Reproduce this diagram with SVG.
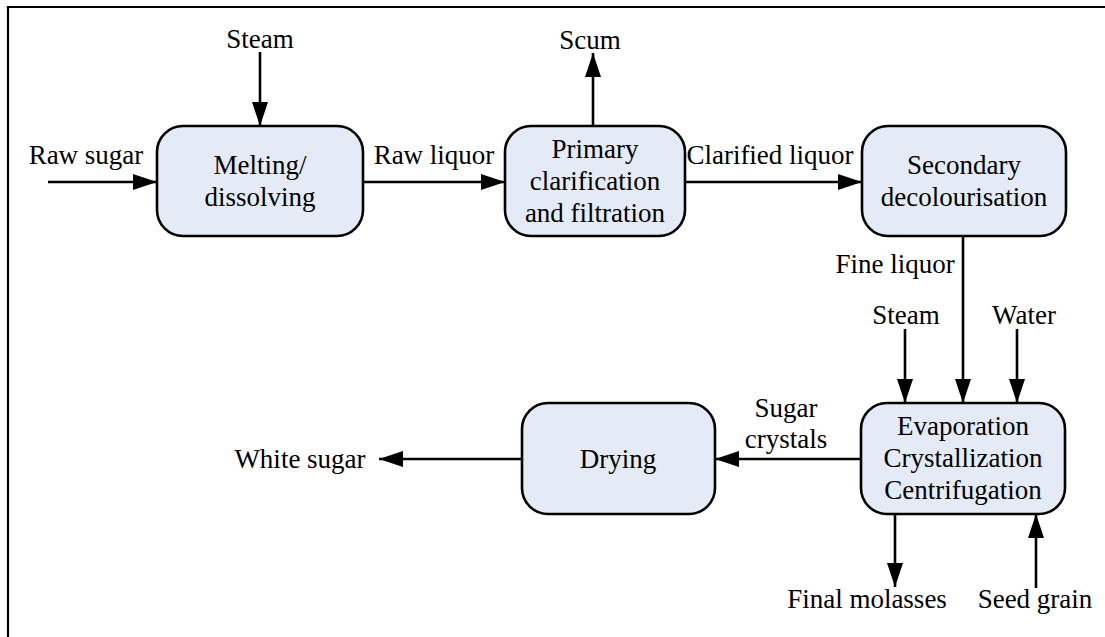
<svg xmlns="http://www.w3.org/2000/svg" width="1105" height="637" viewBox="0 0 1105 637" font-family="'Liberation Serif', 'Times New Roman', Times, serif">
  <style>
    .box { fill: #e5ebf6; stroke: #000; stroke-width: 2.6; }
    .lbl { font-family: 'Liberation Serif', 'Times New Roman', Times, serif; font-size: 27px; fill: #000; text-anchor: middle; }
    .flow { fill: none; stroke: #000; stroke-width: 2.6; }
    .frame { fill: none; stroke: #000; stroke-width: 2.2; }
  </style>
  <defs>
    <marker id="arrow" markerUnits="userSpaceOnUse" markerWidth="25" markerHeight="17" refX="24" refY="8" orient="auto">
      <path d="M0,0 L24,8 L0,16 z" fill="#000"/>
    </marker>
  </defs>

  <rect width="1105" height="637" fill="#fff"/>
  <path class="frame" d="M8,640 V7 H1106"/>

  <!-- process steps -->
  <g id="melting">
    <rect class="box" x="157" y="126" width="206" height="110" rx="26"/>
    <text class="lbl" x="260" y="174">Melting/</text>
    <text class="lbl" x="260" y="206">dissolving</text>
  </g>
  <g id="primary">
    <rect class="box" x="505" y="126" width="180" height="110" rx="26"/>
    <text class="lbl" x="595" y="158">Primary</text>
    <text class="lbl" x="595" y="190">clarification</text>
    <text class="lbl" x="595" y="222">and filtration</text>
  </g>
  <g id="secondary">
    <rect class="box" x="862" y="126" width="204" height="110" rx="26"/>
    <text class="lbl" x="964" y="174">Secondary</text>
    <text class="lbl" x="964" y="206">decolourisation</text>
  </g>
  <g id="evaporation">
    <rect class="box" x="861" y="403" width="204" height="111" rx="26"/>
    <text class="lbl" x="963" y="435">Evaporation</text>
    <text class="lbl" x="963" y="467">Crystallization</text>
    <text class="lbl" x="963" y="499">Centrifugation</text>
  </g>
  <g id="drying">
    <rect class="box" x="522" y="403" width="193" height="111" rx="26"/>
    <text class="lbl" x="618" y="468">Drying</text>
  </g>

  <!-- streams -->
  <g id="connectors">
    <line class="flow" x1="48" y1="182" x2="157" y2="182" marker-end="url(#arrow)"/>
    <line class="flow" x1="260" y1="52" x2="260" y2="126" marker-end="url(#arrow)"/>
    <line class="flow" x1="363" y1="182" x2="505" y2="182" marker-end="url(#arrow)"/>
    <line class="flow" x1="593" y1="126" x2="593" y2="53" marker-end="url(#arrow)"/>
    <line class="flow" x1="685" y1="182" x2="862" y2="182" marker-end="url(#arrow)"/>
    <line class="flow" x1="963" y1="236" x2="963" y2="403" marker-end="url(#arrow)"/>
    <line class="flow" x1="905" y1="329" x2="905" y2="403" marker-end="url(#arrow)"/>
    <line class="flow" x1="1017" y1="329" x2="1017" y2="403" marker-end="url(#arrow)"/>
    <line class="flow" x1="861" y1="459" x2="715" y2="459" marker-end="url(#arrow)"/>
    <line class="flow" x1="522" y1="459" x2="379" y2="459" marker-end="url(#arrow)"/>
    <line class="flow" x1="895" y1="514" x2="895" y2="587" marker-end="url(#arrow)"/>
    <line class="flow" x1="1036" y1="588" x2="1036" y2="514" marker-end="url(#arrow)"/>
  </g>

  <!-- stream labels -->
  <g id="labels">
    <text class="lbl" x="86" y="164">Raw sugar</text>
    <text class="lbl" x="260" y="48">Steam</text>
    <text class="lbl" x="434" y="164">Raw liquor</text>
    <text class="lbl" x="590" y="49">Scum</text>
    <text class="lbl" x="770" y="164">Clarified liquor</text>
    <text class="lbl" x="895" y="273">Fine liquor</text>
    <text class="lbl" x="906" y="324">Steam</text>
    <text class="lbl" x="1024" y="324">Water</text>
    <text class="lbl" x="786" y="417">Sugar</text>
    <text class="lbl" x="786" y="448">crystals</text>
    <text class="lbl" x="300" y="468">White sugar</text>
    <text class="lbl" x="867" y="608">Final molasses</text>
    <text class="lbl" x="1035" y="608">Seed grain</text>
  </g>
</svg>
